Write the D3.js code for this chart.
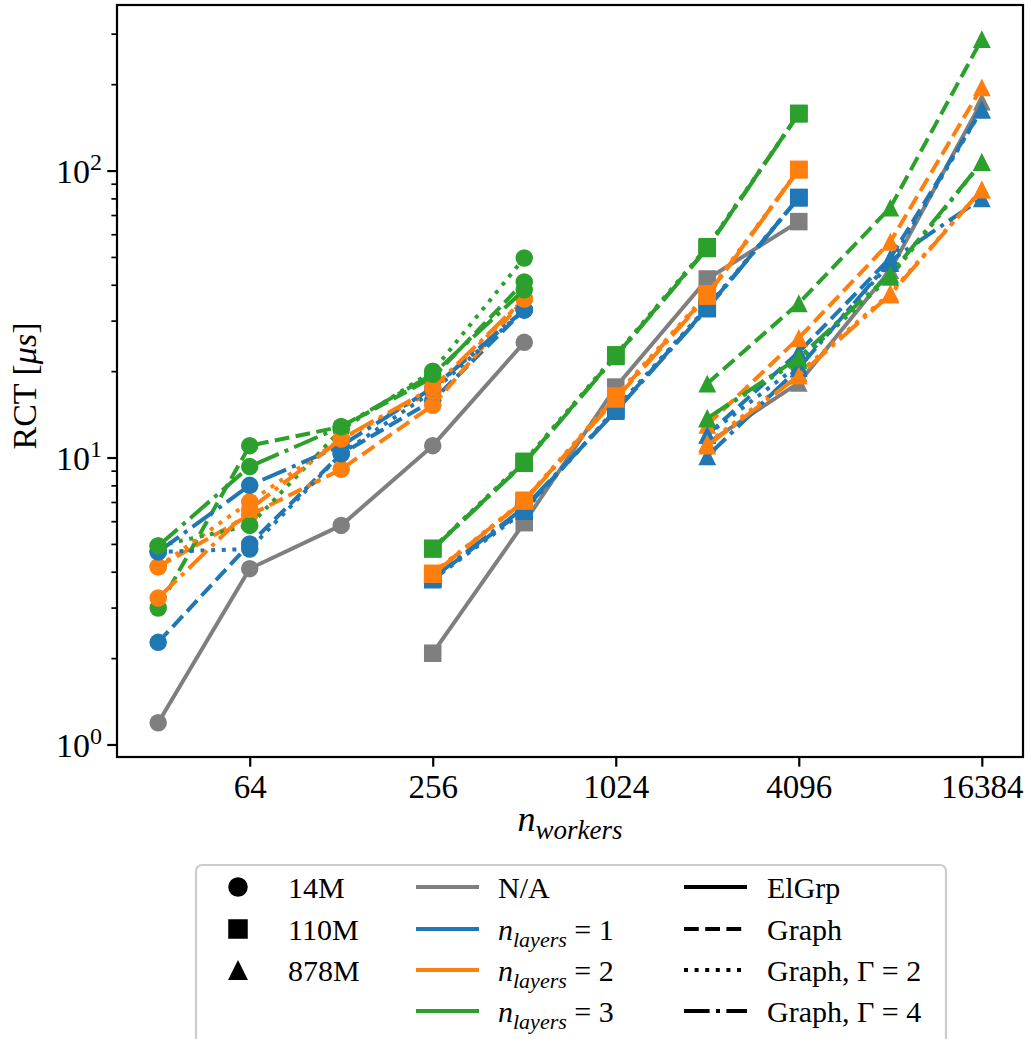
<!DOCTYPE html>
<html><head><meta charset="utf-8">
<script src="https://cdn.jsdelivr.net/npm/d3@7"></script>
<style>body{margin:0;background:#fff} svg{display:block}</style>
</head><body><svg id="c" width="1031" height="1039"></svg>
<script>
// ---- data ----
const xs14 = [32, 64, 128, 256, 512];
const xs110 = [256, 512, 1024, 2048, 4096];
const xs878 = [2048, 4096, 8192, 16384];
const xTicks = [64, 256, 1024, 4096, 16384];
const yTicks = [1, 10, 100];
const yTickExp = ["0", "1", "2"];
const modelLabels = ["14M", "110M", "878M"];
const layerLabels = ["N/A", "1", "2", "3"];
const styleLabels = ["ElGrp", "Graph", "Graph, Γ = 2", "Graph, Γ = 4"];

// 14M
const m14_na      = [1.19, 4.1, 5.8, 11.0, 25.2];
const m14_l1_g    = [2.27, 5.0, 10.3, 15.8, 32.7];
const m14_l2_g    = [4.16, 6.3, 9.1, 15.2, 35.7];
const m14_l3_g    = [2.99, 11.0, 12.8, 19.0, 40.9];
const m14_l1_g2   = [4.69, 4.8, 10.3, 17.0, 32.7];
const m14_l2_g2   = [4.16, 7.0, 11.6, 17.0, 35.7];
const m14_l3_g2   = [4.92, 5.8, 12.5, 20.0, 49.6];
const m14_l1_g4   = [4.69, 8.0, 11.0, 17.5, 32.7];
const m14_l2_g4   = [3.24, 6.6, 11.6, 17.5, 35.7];
const m14_l3_g4   = [4.92, 9.3, 12.8, 19.5, 38.4];
// 110M
const m110_na     = [2.08, 5.93, 17.6, 41.9, 66.4];
const m110_l1_g   = [3.78, 6.6, 14.6, 33.2, 80.5];
const m110_l2_g   = [3.93, 7.07, 16.2, 36.8, 100.8];
const m110_l3_g   = [4.81, 9.6, 22.6, 53.8, 158];
const m110_l1_g2  = [3.75, 6.5, 14.8, 33.5, 80.5];
const m110_l2_g2  = [3.95, 7.1, 16.4, 37.2, 100.8];
const m110_l3_g2  = [4.83, 9.7, 22.8, 54.3, 158];
const m110_l1_g4  = [3.8, 6.7, 14.5, 33.0, 80.5];
const m110_l2_g4  = [3.92, 7.05, 16.0, 36.5, 100.8];
const m110_l3_g4  = [4.8, 9.55, 22.5, 53.5, 158];
// 878M
const m878_na     = [11.2, 18.2, 45.0, 174];
const m878_l1_g   = [12.0, 23.3, 49.6, 163];
const m878_l2_g   = [13.0, 26.1, 56.5, 195];
const m878_l3_g   = [18.1, 34.5, 74.3, 287];
const m878_l1_g2  = [12.0, 21.0, 47.6, 163];
const m878_l2_g2  = [11.2, 19.7, 37.4, 85.8];
const m878_l3_g2  = [13.7, 21.8, 42.6, 107];
const m878_l1_g4  = [10.1, 20.5, 48.5, 80];
const m878_l2_g4  = [11.0, 19.3, 37.0, 85.8];
const m878_l3_g4  = [13.7, 22.3, 43.5, 107];

const series = [
  {m:0, l:0, s:0, x:xs14, v:m14_na},
  {m:0, l:1, s:1, x:xs14, v:m14_l1_g}, {m:0, l:2, s:1, x:xs14, v:m14_l2_g}, {m:0, l:3, s:1, x:xs14, v:m14_l3_g},
  {m:0, l:1, s:2, x:xs14, v:m14_l1_g2}, {m:0, l:2, s:2, x:xs14, v:m14_l2_g2}, {m:0, l:3, s:2, x:xs14, v:m14_l3_g2},
  {m:0, l:1, s:3, x:xs14, v:m14_l1_g4}, {m:0, l:2, s:3, x:xs14, v:m14_l2_g4}, {m:0, l:3, s:3, x:xs14, v:m14_l3_g4},
  {m:1, l:0, s:0, x:xs110, v:m110_na},
  {m:1, l:1, s:1, x:xs110, v:m110_l1_g}, {m:1, l:2, s:1, x:xs110, v:m110_l2_g}, {m:1, l:3, s:1, x:xs110, v:m110_l3_g},
  {m:1, l:1, s:2, x:xs110, v:m110_l1_g2}, {m:1, l:2, s:2, x:xs110, v:m110_l2_g2}, {m:1, l:3, s:2, x:xs110, v:m110_l3_g2},
  {m:1, l:1, s:3, x:xs110, v:m110_l1_g4}, {m:1, l:2, s:3, x:xs110, v:m110_l2_g4}, {m:1, l:3, s:3, x:xs110, v:m110_l3_g4},
  {m:2, l:0, s:0, x:xs878, v:m878_na},
  {m:2, l:1, s:1, x:xs878, v:m878_l1_g}, {m:2, l:2, s:1, x:xs878, v:m878_l2_g}, {m:2, l:3, s:1, x:xs878, v:m878_l3_g},
  {m:2, l:1, s:2, x:xs878, v:m878_l1_g2}, {m:2, l:2, s:2, x:xs878, v:m878_l2_g2}, {m:2, l:3, s:2, x:xs878, v:m878_l3_g2},
  {m:2, l:1, s:3, x:xs878, v:m878_l1_g4}, {m:2, l:2, s:3, x:xs878, v:m878_l2_g4}, {m:2, l:3, s:3, x:xs878, v:m878_l3_g4},
];

// ---- styles ----
const FONT = "'Liberation Serif', 'Times New Roman', serif";
const colors = ["#7f7f7f", "#1f77b4", "#ff7f0e", "#2ca02c"];
const LW = 4.0;
const dashPat = [null, [3.7, 1.6], [1, 1.65], [6.4, 1.6, 1, 1.6]];
const MS = 17.5;

const L = 117, R = 1023, T = 5, B = 757;
const svg = d3.select("#c");
const x = d3.scaleLog().base(2).domain([Math.pow(2, 4.55), Math.pow(2, 14.45)]).range([L, R]);
const y = d3.scaleLog().domain([Math.pow(10, -0.0436), Math.pow(10, 2.577)]).range([B, T]);

function drawMarker(g, m, cx, cy, color, size) {
  if (m === 0) {
    g.append("circle").attr("cx", cx).attr("cy", cy).attr("r", size / 2).attr("fill", color);
  } else if (m === 1) {
    g.append("rect").attr("x", cx - size / 2).attr("y", cy - size / 2).attr("width", size).attr("height", size).attr("fill", color);
  } else {
    const h = size * 1.02, w = size * 1.02;
    g.append("path").attr("d", `M${cx},${cy - h / 2}L${cx + w / 2},${cy + h / 2}L${cx - w / 2},${cy + h / 2}Z`).attr("fill", color);
  }
}

const plot = svg.append("g");
const line = d3.line().x(d => x(d[0])).y(d => y(d[1]));
series.forEach(sr => {
  const pts = sr.x.map((xv, i) => [xv, sr.v[i]]);
  const p = plot.append("path").attr("d", line(pts)).attr("fill", "none")
    .attr("stroke", colors[sr.l]).attr("stroke-width", LW).attr("stroke-linejoin", "round");
  if (dashPat[sr.s]) p.attr("stroke-dasharray", dashPat[sr.s].map(d => d * LW).join(","));
  else p.attr("stroke-linecap", "round");
  pts.forEach(d => drawMarker(plot, sr.m, x(d[0]), y(d[1]), colors[sr.l], MS));
});

// ---- axes ----
const xAxis = svg.append("g").attr("transform", `translate(0,${B})`)
  .call(d3.axisBottom(x).tickValues(xTicks).tickFormat(d3.format("d")).tickSize(9.7).tickPadding(8));
xAxis.select(".domain").remove();
xAxis.selectAll("line").attr("stroke", "#000").attr("stroke-width", 2.2);
xAxis.selectAll("text").attr("font-family", FONT).attr("font-size", 33).attr("fill", "#000");

const yMinor = [];
[1, 10, 100].forEach(dec => { for (let k = 2; k <= 9; k++) { const v = dec * k; if (v <= 377) yMinor.push(v); } });
const yMin = svg.append("g").attr("transform", `translate(${L},0)`)
  .call(d3.axisLeft(y).tickValues(yMinor).tickFormat("").tickSize(5.6));
yMin.select(".domain").remove();
yMin.selectAll("line").attr("stroke", "#000").attr("stroke-width", 1.7);

const yAxis = svg.append("g").attr("transform", `translate(${L},0)`)
  .call(d3.axisLeft(y).tickValues(yTicks).tickFormat("").tickSize(9.7));
yAxis.select(".domain").remove();
yAxis.selectAll("line").attr("stroke", "#000").attr("stroke-width", 2.2);
yAxis.selectAll(".tick").each(function (d, i) {
  const t = d3.select(this).append("text").attr("x", -15).attr("dy", "0.36em")
    .attr("text-anchor", "end").attr("font-family", FONT).attr("font-size", 34).attr("fill", "#000");
  t.append("tspan").text("10");
  t.append("tspan").attr("dy", -13).attr("font-size", 24).text(yTickExp[i]);
});

svg.append("rect").attr("x", L).attr("y", T).attr("width", R - L).attr("height", B - T)
  .attr("fill", "none").attr("stroke", "#000").attr("stroke-width", 2.2);

// axis labels
const xl = svg.append("text").attr("x", (L + R) / 2).attr("y", 831).attr("text-anchor", "middle")
  .attr("font-family", FONT).attr("font-size", 36).attr("fill", "#000");
xl.append("tspan").attr("font-style", "italic").text("n");
xl.append("tspan").attr("font-style", "italic").attr("font-size", 27).attr("dy", 8).text("workers");

const yl = svg.append("text").attr("transform", `translate(36,${(T + B) / 2 + 5}) rotate(-90)`)
  .attr("text-anchor", "middle").attr("font-family", FONT).attr("font-size", 34).attr("fill", "#000");
yl.append("tspan").text("RCT [");
yl.append("tspan").attr("font-style", "italic").text("μs");
yl.append("tspan").text("]");

// ---- legend ----
const LF = 30;
const leg = svg.append("g");
leg.append("rect").attr("x", 196).attr("y", 865).attr("width", 750).attr("height", 200).attr("rx", 6)
  .attr("fill", "#fff").attr("fill-opacity", 0.8).attr("stroke", "#cccccc").attr("stroke-width", 2.2);
const rowY = [887, 929, 970, 1011];
function legText(xp, yp) {
  return leg.append("text").attr("x", xp).attr("y", yp).attr("dy", "0.35em")
    .attr("font-family", FONT).attr("font-size", LF).attr("fill", "#000");
}
modelLabels.forEach((lab, i) => {
  drawMarker(leg, i, 238, rowY[i], "#000", MS + 2);
  legText(288, rowY[i]).text(lab);
});
layerLabels.forEach((lab, i) => {
  leg.append("line").attr("x1", 416).attr("x2", 479).attr("y1", rowY[i]).attr("y2", rowY[i])
    .attr("stroke", colors[i]).attr("stroke-width", LW);
  const t = legText(498, rowY[i]);
  if (i === 0) t.text(lab);
  else {
    t.append("tspan").attr("font-style", "italic").text("n");
    t.append("tspan").attr("font-style", "italic").attr("font-size", 22).attr("dy", 7).text("layers");
    t.append("tspan").attr("dy", -7).text(" = " + lab);
  }
});
styleLabels.forEach((lab, i) => {
  const ln = leg.append("line").attr("x1", 684).attr("x2", 747).attr("y1", rowY[i]).attr("y2", rowY[i])
    .attr("stroke", "#000").attr("stroke-width", LW);
  if (dashPat[i]) ln.attr("stroke-dasharray", dashPat[i].map(d => d * LW).join(","));
  legText(767, rowY[i]).text(lab);
});
</script></body></html>
